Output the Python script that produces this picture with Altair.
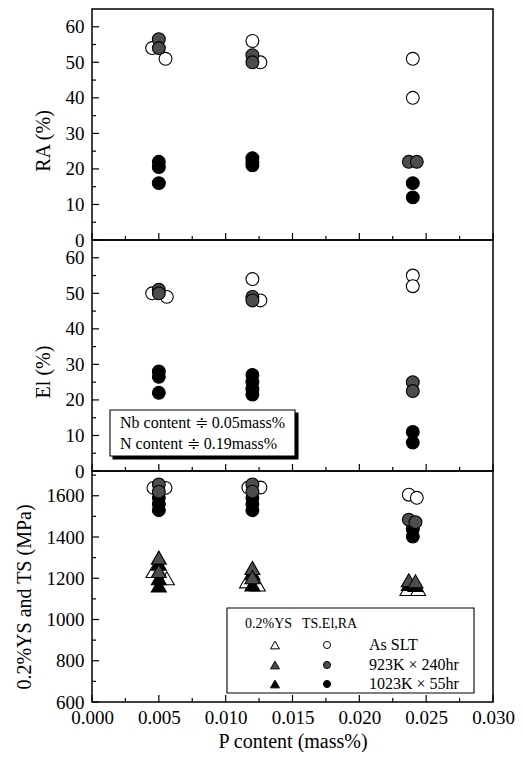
import altair as alt
import pandas as pd

# ---------------- data ----------------
x_major = [0.000, 0.005, 0.010, 0.015, 0.020, 0.025, 0.030]
x_minor = [0.0025, 0.0075, 0.0125, 0.0175, 0.0225, 0.0275]
pct_major = [0, 10, 20, 30, 40, 50, 60]
pct_minor = [5, 15, 25, 35, 45, 55]
mpa_major = [600, 800, 1000, 1200, 1400, 1600]
mpa_minor = [700, 900, 1100, 1300, 1500, 1700]

# RA (%)
ra_slt_x = [0.0045, 0.0055, 0.0120, 0.0126, 0.0240, 0.0240]
ra_slt_y = [54, 51, 56, 50, 51, 40]
ra_923_x = [0.0050, 0.0050, 0.0120, 0.0120, 0.0237, 0.0243]
ra_923_y = [56.5, 54, 52, 50, 22, 22]
ra_1023_x = [0.0050, 0.0050, 0.0050, 0.0120, 0.0120, 0.0120, 0.0240, 0.0240]
ra_1023_y = [22, 20.5, 16, 23, 22, 21, 16, 12]

# El (%)
el_slt_x = [0.0045, 0.0056, 0.0120, 0.0126, 0.0240, 0.0240]
el_slt_y = [50, 49, 54, 48, 55, 52]
el_923_x = [0.0050, 0.0050, 0.0120, 0.0120, 0.0240, 0.0240]
el_923_y = [51, 50, 49, 48, 25, 22.5]
el_1023_x = [0.0050, 0.0050, 0.0050, 0.0120, 0.0120, 0.0120, 0.0120, 0.0240, 0.0240]
el_1023_y = [28, 26.5, 22, 27, 25, 23, 21.5, 11, 8]

# TS (MPa) - circles
ts_slt_x = [0.0046, 0.0055, 0.0117, 0.0126, 0.0237, 0.0243]
ts_slt_y = [1638, 1638, 1640, 1640, 1605, 1590]
ts_923_x = [0.0050, 0.0050, 0.0120, 0.0120, 0.0237, 0.0242]
ts_923_y = [1655, 1620, 1655, 1620, 1484, 1472]
ts_1023_x = [0.0050, 0.0050, 0.0050, 0.0120, 0.0120, 0.0120, 0.0240, 0.0240]
ts_1023_y = [1590, 1560, 1530, 1590, 1560, 1530, 1438, 1402]

# 0.2% YS (MPa) - triangles
ys_slt_x = [0.0046, 0.0056, 0.0116, 0.0124, 0.0236, 0.0244]
ys_slt_y = [1235, 1200, 1185, 1170, 1148, 1148]
ys_923_x = [0.0050, 0.0050, 0.0120, 0.0120, 0.0237, 0.0242]
ys_923_y = [1300, 1235, 1250, 1205, 1190, 1185]
ys_1023_x = [0.0050, 0.0050, 0.0050, 0.0120, 0.0120, 0.0237, 0.0242]
ys_1023_y = [1270, 1200, 1165, 1225, 1170, 1172, 1168]

legend_labels = ["As SLT", "923K \u00d7 240hr", "1023K \u00d7 55hr"]
note_lines = ["Nb content \u2251 0.05mass%", "N content \u2251 0.19mass%"]

# ---------------- styling ----------------
W = 401
H = 231
FONT = "Liberation Serif"
GREY = "#4d4d4d"
OPEN = "white"
BLACK = "black"
CIRCLE = 165
TRI = 225

x_dom = [0.0, 0.03]


def xenc(field, show):
    if show:
        ax = alt.Axis(values=x_major, format=".3f", title="P content (mass%)",
                      ticks=False, domain=False, grid=False, labelFlush=False,
                      labelOverlap=False, labelPadding=6, titlePadding=4,
                      labelFontSize=19, titleFontSize=20)
    else:
        ax = None
    return alt.X(field, scale=alt.Scale(domain=x_dom, nice=False, zero=False), axis=ax)


def yenc(field, dom, values, title, title_y):
    ax = alt.Axis(values=values, title=title, ticks=False, domain=False, grid=False,
                  format="d", labelPadding=8, titlePadding=12, labelFontSize=19,
                  titleFontSize=20, labelOverlap=False, labelFlush=False, titleY=title_y)
    return alt.Y(field, scale=alt.Scale(domain=dom, nice=False, zero=False), axis=ax)


def pts(xs, ys, shape, fill, size, dom, yvals, title, ty, showx):
    df = pd.DataFrame({"x": xs, "y": ys})
    return alt.Chart(df).mark_point(
        shape=shape, filled=True, fill=fill, stroke="black", strokeWidth=1.1,
        size=size, opacity=1, fillOpacity=1
    ).encode(x=xenc("x:Q", showx), y=yenc("y:Q", dom, yvals, title, ty))


def ticks(dom, ymaj, ymin, title, ty, showx):
    layers = []
    for vals, ln in ((x_major, 7), (x_minor, 4)):
        layers.append(alt.Chart(pd.DataFrame({"v": vals})).mark_rule(
            color="black", strokeWidth=1.2).encode(
            x=xenc("v:Q", showx), y=alt.value(H), y2=alt.value(H - ln)))
    for vals, ln in ((ymaj, 7), (ymin, 4)):
        layers.append(alt.Chart(pd.DataFrame({"v": vals})).mark_rule(
            color="black", strokeWidth=1.2).encode(
            y=yenc("v:Q", dom, ymaj, title, ty), x=alt.value(0), x2=alt.value(ln)))
    return layers


one = pd.DataFrame({"a": [0]})


def box(x1, x2, y1, y2, fill="white", stroke="black"):
    return alt.Chart(one).mark_rect(fill=fill, stroke=stroke, strokeWidth=1.1).encode(
        x=alt.value(x1), x2=alt.value(x2), y=alt.value(y1), y2=alt.value(y2))


def label(txt, x, y, size):
    return alt.Chart(one).mark_text(text=txt, align="left", baseline="middle",
                                    font=FONT, fontSize=size, color="black").encode(
        x=alt.value(x), y=alt.value(y))


def sym(shape, fill, x, y, size):
    return alt.Chart(one).mark_point(shape=shape, filled=True, fill=fill, stroke="black",
                                     strokeWidth=1.0, size=size, opacity=1).encode(
        x=alt.value(x), y=alt.value(y))


# ---------------- panel 1: RA ----------------
d1 = [0, 65]
ty1 = H / 2 + 16
p1 = alt.layer(
    *ticks(d1, pct_major, pct_minor, "RA (%)", ty1, False),
    pts(ra_slt_x, ra_slt_y, "circle", OPEN, CIRCLE, d1, pct_major, "RA (%)", ty1, False),
    pts(ra_1023_x, ra_1023_y, "circle", BLACK, CIRCLE, d1, pct_major, "RA (%)", ty1, False),
    pts(ra_923_x, ra_923_y, "circle", GREY, CIRCLE, d1, pct_major, "RA (%)", ty1, False),
).properties(width=W, height=H)

# ---------------- panel 2: El ----------------
d2 = [0, 65]
ty2 = H / 2 + 16
p2 = alt.layer(
    *ticks(d2, pct_major, pct_minor, "El (%)", ty2, False),
    pts(el_slt_x, el_slt_y, "circle", OPEN, CIRCLE, d2, pct_major, "El (%)", ty2, False),
    pts(el_1023_x, el_1023_y, "circle", BLACK, CIRCLE, d2, pct_major, "El (%)", ty2, False),
    pts(el_923_x, el_923_y, "circle", GREY, CIRCLE, d2, pct_major, "El (%)", ty2, False),
    box(21, 206, H - 58, H - 12, fill="black", stroke="black"),
    box(18, 203, H - 61, H - 15),
    label(note_lines[0], 28, H - 48, 16),
    label(note_lines[1], 28, H - 27, 16),
).properties(width=W, height=H)

# ---------------- panel 3: YS & TS ----------------
d3 = [600, 1720]
t3 = "0.2%YS and TS (MPa)"
ty3 = H / 2 + 10
p3 = alt.layer(
    *ticks(d3, mpa_major, mpa_minor, t3, ty3, True),
    pts(ys_slt_x, ys_slt_y, "triangle-up", OPEN, TRI, d3, mpa_major, t3, ty3, True),
    pts(ys_1023_x, ys_1023_y, "triangle-up", BLACK, TRI, d3, mpa_major, t3, ty3, True),
    pts(ys_923_x, ys_923_y, "triangle-up", GREY, TRI, d3, mpa_major, t3, ty3, True),
    pts(ts_slt_x, ts_slt_y, "circle", OPEN, CIRCLE, d3, mpa_major, t3, ty3, True),
    pts(ts_1023_x, ts_1023_y, "circle", BLACK, CIRCLE, d3, mpa_major, t3, ty3, True),
    pts(ts_923_x, ts_923_y, "circle", GREY, CIRCLE, d3, mpa_major, t3, ty3, True),
    box(135, 382, H - 94, H - 9),
    label("0.2%YS", 153, H - 78, 14),
    label("TS.El,RA", 210, H - 78, 14),
    sym("triangle-up", OPEN, 183, H - 57, 80),
    sym("circle", OPEN, 235, H - 57, 50),
    label(legend_labels[0], 277, H - 57, 16),
    sym("triangle-up", GREY, 183, H - 37, 80),
    sym("circle", GREY, 235, H - 37, 50),
    label(legend_labels[1], 277, H - 37, 16),
    sym("triangle-up", BLACK, 183, H - 18, 80),
    sym("circle", BLACK, 235, H - 18, 50),
    label(legend_labels[2], 277, H - 18, 16),
).properties(width=W, height=H)

chart = alt.vconcat(p1, p2, p3, spacing=0, bounds="flush").properties(
    padding={"left": 5, "top": 0, "right": 0, "bottom": 0}
).configure_view(stroke="black", strokeWidth=1.5).configure_axis(
    labelFont=FONT, titleFont=FONT, labelColor="black", titleColor="black",
    titleFontWeight="normal"
)

chart.save("out.html", embed_options={"renderer": "svg", "actions": False})
